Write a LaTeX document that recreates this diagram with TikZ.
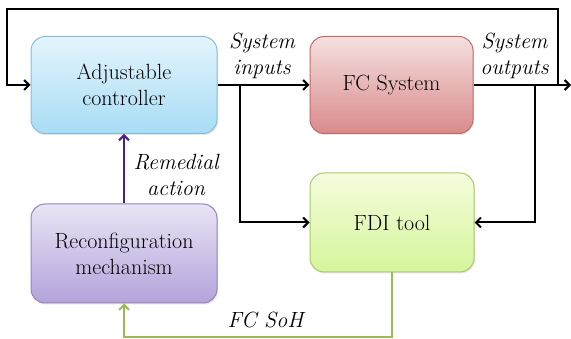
\documentclass[tikz,border=0pt]{standalone}
\usepackage{fontspec}
\usepackage{xcolor}
\usepackage{tikz}
\usetikzlibrary{arrows.meta,positioning,calc,shadows}

\definecolor{ctrltop}{HTML}{E3F4FC}
\definecolor{ctrlbot}{HTML}{A9DDF5}
\definecolor{ctrlline}{HTML}{86BEDC}
\definecolor{fcstop}{HTML}{F5E0E0}
\definecolor{fcsbot}{HTML}{D98A8A}
\definecolor{fcsline}{HTML}{C46A6A}
\definecolor{fditop}{HTML}{F5FCDD}
\definecolor{fdibot}{HTML}{D5F59A}
\definecolor{fdiline}{HTML}{A9C96A}
\definecolor{rectop}{HTML}{EAE4F5}
\definecolor{recbot}{HTML}{B3A3DB}
\definecolor{recline}{HTML}{9683C0}
\definecolor{remcol}{HTML}{4B1E8C}
\definecolor{sohcol}{HTML}{9BBB59}

\tikzset{
	block/.style={rounded corners=14pt,line width=1pt,align=center,
		font=\fontsize{22}{26}\selectfont,
		drop shadow={opacity=0.2,shadow xshift=1pt,shadow yshift=-1.5pt}},
	sig/.style={line width=2pt,-{Straight Barb[length=5pt,width=10pt]}},
	lbl/.style={align=center,font=\fontsize{22}{26}\selectfont\itshape}
}

\begin{document}
\begin{tikzpicture}[x=1pt,y=-1pt]
	\useasboundingbox (0,0) rectangle (571,339);
	% blocks
	\node[block,draw=ctrlline,top color=ctrltop,bottom color=ctrlbot,minimum width=186pt,minimum height=97pt] (ctrl) at (124,85) {Adjustable\\controller};
	\node[block,draw=fcsline,top color=fcstop,bottom color=fcsbot,minimum width=163pt,minimum height=97pt] (fcs) at (391.5,85) {FC System};
	\node[block,draw=fdiline,top color=fditop,bottom color=fdibot,minimum width=164pt,minimum height=99pt] (fdi) at (392,222.5) {FDI tool};
	\node[block,draw=recline,top color=rectop,bottom color=recbot,minimum width=186pt,minimum height=99pt] (reconf) at (124,253.5) {Reconfiguration\\mechanism};
	% branch points
	\coordinate (inb) at (240,85);
	\coordinate (outb) at (535,85);
	\coordinate (fb) at (558,85);
	\coordinate (tl) at (7,9);
	\coordinate (outend) at (571,85);
	% signals
	\draw[sig] (ctrl.east)--(fcs.west);
	\draw[sig] (inb) |- (fdi.west);
	\draw[sig] (fcs.east)--(outend);
	\draw[sig] (outb) |- (fdi.east);
	\draw[sig] (fb) |- (tl) |- (ctrl.west);
	\draw[sig,remcol] (reconf.north)--(ctrl.south);
	\draw[sig,sohcol] (fdi.south)--++(0,65) -| (reconf.south);
	% labels
	\node[lbl] (inlbl) at (262,56) {System\\inputs};
	\node[lbl] (outlbl) at (514.5,56) {System\\outputs};
	\node[lbl] (remlbl) at (176,175) {Remedial\\action};
	\node[lbl] (sohlbl) at (265.5,320) {FC SoH};
\end{tikzpicture}
\end{document}
